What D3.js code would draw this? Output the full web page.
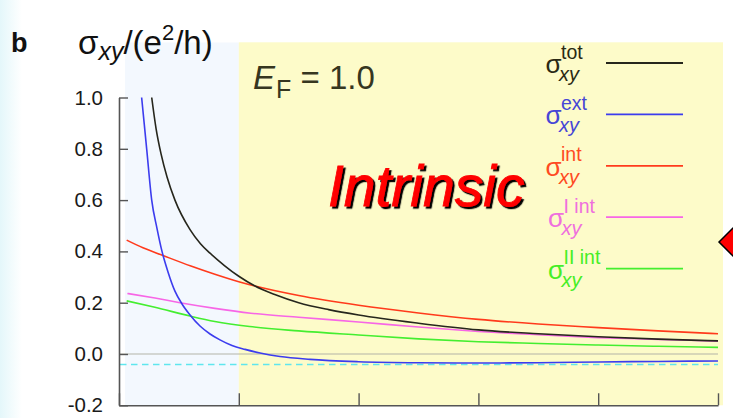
<!DOCTYPE html>
<html>
<head>
<meta charset="utf-8">
<script src="https://cdn.jsdelivr.net/npm/d3@7"></script>
<style>
  html, body { margin: 0; padding: 0; background: #fff; }
  svg { display: block; font-family: "Liberation Sans", Arial, sans-serif; }
</style>
</head>
<body>
<svg id="chart" width="733" height="418"></svg>
<script>
// Axis ticks
const xTicks = [0, 1, 2, 3, 4, 5];
const yTicks = [-0.2, 0.0, 0.2, 0.4, 0.6, 0.8, 1.0];

// Hall conductivity components (units of e^2/h), sampled along the x axis
const totX   = [0.273, 0.309, 0.351, 0.401, 0.467, 0.593, 0.68, 0.76, 0.88, 1.0, 1.135, 1.3, 1.5, 1.75, 2.0, 2.5, 3.0, 3.5, 4.0, 4.5, 5.0];
const totY   = [1.0, 0.88, 0.78, 0.69, 0.60, 0.485, 0.43, 0.393, 0.345, 0.303, 0.265, 0.232, 0.20, 0.173, 0.152, 0.12, 0.094, 0.079, 0.067, 0.058, 0.051];

const extX   = [0.189, 0.231, 0.273, 0.317, 0.359, 0.409, 0.467, 0.526, 0.593, 0.676, 0.76, 0.843, 0.943, 1.052, 1.177, 1.344, 1.594, 2.0, 2.5, 3.0, 3.5, 4.0, 4.5, 5.0];
const extY   = [1.0, 0.8, 0.6, 0.49, 0.40, 0.32, 0.245, 0.195, 0.152, 0.109, 0.078, 0.055, 0.033, 0.018, 0.004, -0.010, -0.021, -0.030, -0.034, -0.035, -0.034, -0.031, -0.029, -0.027];

const intX   = [0.064, 0.2, 0.367, 0.6, 0.8, 1.0, 1.135, 1.5, 2.0, 2.5, 3.0, 3.5, 4.0, 4.5, 5.0];
const intY   = [0.444, 0.414, 0.384, 0.343, 0.311, 0.282, 0.265, 0.228, 0.19, 0.16, 0.135, 0.117, 0.103, 0.09, 0.079];

const intIX  = [0.07, 0.3, 0.509, 0.8, 1.1, 1.5, 2.0, 2.5, 3.0, 3.5, 4.0, 4.5, 5.0];
const intIY  = [0.236, 0.218, 0.200, 0.178, 0.159, 0.143, 0.125, 0.105, 0.088, 0.075, 0.064, 0.057, 0.050];

const intIIX = [0.064, 0.3, 0.593, 0.8, 1.09, 1.5, 2.0, 2.5, 3.0, 3.5, 4.0, 4.5, 5.0];
const intIIY = [0.207, 0.182, 0.148, 0.127, 0.107, 0.09, 0.074, 0.059, 0.048, 0.041, 0.035, 0.030, 0.026];

// Reference level (dashed)
const refLevel = -0.041;

// Legend entries
const seriesKeys   = ["tot", "ext", "int", "I int", "II int"];
const seriesColors = ["#26261c", "#3c3cee", "#ff3a1c", "#f766e6", "#44ee30"];
const labelColors  = ["#2a2a14", "#4646d6", "#ff4a22", "#ef6fde", "#46ee26"];

const panelLabel = "b";
const fermiText = "1.0";
const regimeText = "Intrinsic";

const svg = d3.select("#chart");

const x = d3.scaleLinear().domain([0, 5]).range([119, 718]);
const y = d3.scaleLinear().domain([-0.2, 1.0]).range([405.3, 97.5]);

const defs = svg.append("defs");
// soft tint at the left edge of the slide
const g0 = defs.append("linearGradient").attr("id", "edge").attr("x1", 0).attr("x2", 1);
g0.append("stop").attr("offset", 0).attr("stop-color", "#e4f7fa");
g0.append("stop").attr("offset", 1).attr("stop-color", "#ffffff");
// hard drop shadow for the regime label
const sh = defs.append("filter").attr("id", "shadow")
  .attr("x", "-5%").attr("y", "-10%").attr("width", "115%").attr("height", "130%");
sh.append("feDropShadow")
  .attr("dx", 2.2).attr("dy", 2.2).attr("stdDeviation", 0.3)
  .attr("flood-color", "#000").attr("flood-opacity", 1);

svg.append("rect").attr("x", 0).attr("y", 0).attr("width", 22).attr("height", 418).attr("fill", "url(#edge)");

// regime backgrounds
svg.append("rect")
  .attr("x", 125).attr("y", 42.5)
  .attr("width", x(1) - 125).attr("height", y(-0.2) - 42.5)
  .attr("fill", "#f3f8fe");
svg.append("rect")
  .attr("x", x(1)).attr("y", 42.3)
  .attr("width", 723 - x(1)).attr("height", y(-0.2) - 42.3)
  .attr("fill", "#fdfbc9");

// zero line
svg.append("line")
  .attr("x1", x(0)).attr("x2", x(5))
  .attr("y1", y(0)).attr("y2", y(0))
  .attr("stroke", "#b4b4a8").attr("stroke-width", 1.2);

// dashed reference level
svg.append("line")
  .attr("x1", x(0) + 1).attr("x2", x(5))
  .attr("y1", y(refLevel)).attr("y2", y(refLevel))
  .attr("stroke", "#5fe6ee").attr("stroke-width", 1.5)
  .attr("stroke-dasharray", "6.5,4.5");

// curves
const line = d3.line().x(d => x(d[0])).y(d => y(d[1])).curve(d3.curveMonotoneX);
const series = [
  [totX, totY], [extX, extY], [intX, intY], [intIX, intIY], [intIIX, intIIY]
];
// draw order: light curves first, total on top
[4, 3, 2, 1, 0].forEach(i => {
  const [xs, ys] = series[i];
  svg.append("path")
    .datum(d3.zip(xs, ys))
    .attr("d", line)
    .attr("fill", "none")
    .attr("stroke", seriesColors[i])
    .attr("stroke-width", 1.6);
});

// axes
const fmt = d3.format(".1f");
const yAxis = d3.axisLeft(y)
  .tickValues(yTicks)
  .tickSize(-9).tickSizeOuter(0)
  .tickPadding(16)
  .tickFormat(d => fmt(d).replace("\u2212", "-"));
const gy = svg.append("g").attr("transform", `translate(${x(0)},0)`).call(yAxis);
gy.selectAll("text")
  .attr("font-size", 20.5)
  .attr("font-family", "Liberation Sans, Arial, sans-serif")
  .attr("fill", "#1a1a1a");

const xAxis = d3.axisBottom(x)
  .tickValues(xTicks)
  .tickSize(-12).tickSizeOuter(0)
  .tickFormat("");
const gx = svg.append("g").attr("transform", `translate(0,${y(-0.2)})`).call(xAxis);

[gx, gy].forEach(g => {
  g.select(".domain").attr("stroke", "#555").attr("stroke-width", 1.6);
  g.selectAll(".tick line").attr("stroke", "#555").attr("stroke-width", 1.4);
});

// panel label and y-axis title
svg.append("text")
  .attr("x", 11).attr("y", 52)
  .attr("font-size", 27).attr("font-weight", "bold")
  .attr("fill", "#111")
  .text(panelLabel);

const yt = svg.append("text")
  .attr("x", 78).attr("y", 54)
  .attr("font-size", 33).attr("fill", "#111");
yt.append("tspan").text("σ");
yt.append("tspan").attr("font-size", 25).attr("font-style", "italic").attr("dy", 6).text("xy");
yt.append("tspan").attr("dy", -6).text("/(e");
yt.append("tspan").attr("font-size", 22).attr("dy", -14).text("2");
yt.append("tspan").attr("dy", 14).text("/h)");

// Fermi energy annotation
const ef = svg.append("text")
  .attr("x", 253).attr("y", 89)
  .attr("font-size", 33).attr("fill", "#36361f");
ef.append("tspan").attr("font-style", "italic").text("E");
ef.append("tspan").attr("font-size", 25).attr("dy", 9).attr("dx", 1).text("F");
ef.append("tspan").attr("dy", -9).text(" = " + fermiText);

// regime label with drop shadow
svg.append("text")
  .attr("x", 328).attr("y", 206)
  .attr("font-size", 57).attr("font-style", "italic")
  .attr("fill", "#ff0000")
  .attr("stroke", "#ff0000").attr("stroke-width", 0.8)
  .attr("filter", "url(#shadow)")
  .text(regimeText);

// legend
const lg = svg.append("g");
seriesKeys.forEach((k, i) => {
  const ly = 63 + i * 51.4;
  const lx = i < 3 ? 545.5 : 548;
  lg.append("line")
    .attr("x1", 606).attr("x2", 683)
    .attr("y1", ly).attr("y2", ly)
    .attr("stroke", seriesColors[i]).attr("stroke-width", 1.8);
  const t = lg.append("text").attr("fill", labelColors[i]);
  t.append("tspan")
    .attr("x", lx).attr("y", ly + 10)
    .attr("font-size", 26)
    .text("σ");
  t.append("tspan")
    .attr("x", lx + 15.5).attr("y", ly - 4.5)
    .attr("font-size", 19.5)
    .text(k);
  t.append("tspan")
    .attr("x", lx + 13.5).attr("y", ly + 18)
    .attr("font-size", 20).attr("font-style", "italic")
    .text("xy");
});

// navigation marker at the right edge
svg.append("polygon")
  .attr("points", [[719, 242], [735, 226], [751, 242], [735, 258]].map(p => p.join(",")).join(" "))
  .attr("fill", "#ff0000").attr("stroke", "#000").attr("stroke-width", 1.5);
</script>
</body>
</html>
